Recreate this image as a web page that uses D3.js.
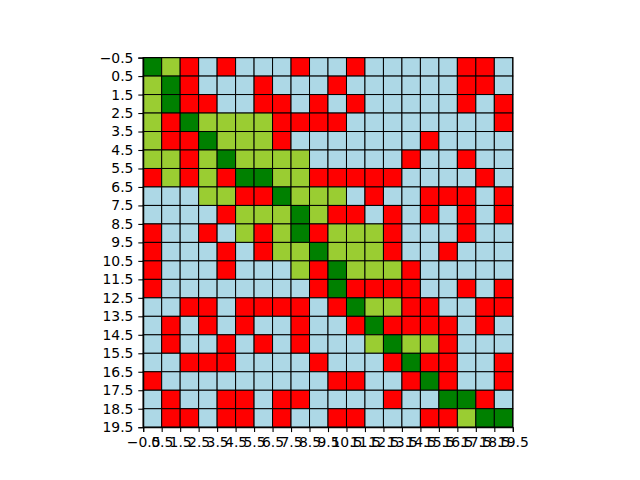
<!DOCTYPE html>
<html>
<head>
<meta charset="utf-8">
<script src="https://cdn.jsdelivr.net/npm/d3@7"></script>
<style>
  body { margin: 0; background: #fff; }
  svg { display: block; }
  .tick text { font-family: "DejaVu Sans", sans-serif; font-size: 13.9px; fill: #000; }
</style>
</head>
<body>
<div id="chart"></div>
<script>
// Cell codes per row (top row first): G=green, Y=yellowgreen, R=red, B=lightblue
const rows = [
  "GYRBRBBBRBBRBBBBBRRB",
  "YGRBBBRBBBRBBBBBBRRB",
  "YGRRBBRRBRBRBBBBBRBR",
  "YRGYYYYRRRRBBBBBBBBR",
  "YRRGYYYRBBBBBBBRBBBB",
  "YYRYGYYYYBBBBBRBBRBB",
  "RYRYRGGYYRRRRRBBBBRB",
  "BBBYYRRGYYYBRBBRRRBR",
  "BBBBRYYYGYRRBRBRBRBR",
  "RBBRBYRYGRYYYRBBBRBB",
  "RBBBRBRYYGYYYRBBRBBB",
  "RBBBRBBBYRGYYYRBBBBB",
  "RBBBBBBBBRGRRRRBBRBR",
  "BBRRBRRRRBRGYYRRBBRR",
  "BRBRBRBBRBBRGRRRRBRB",
  "BRBBRBRBRBBBYGYYRBBB",
  "BBRRRBBBBRBBBRGRRBBR",
  "RBBBBBBBBBRRBBRGRBBR",
  "BRBBRRBRRBBBBRBBGGRB",
  "BRRBRRBRBBRRBBBRRYGG"
];
const colorCodes = ["G", "Y", "R", "B"];
const colorNames = ["green", "yellowgreen", "red", "lightblue"];
const tickValues = d3.range(-0.5, 20, 1);

(function () {
const W = 640, H = 480;
const plotSize = 369.6;
const mLeft = 80 + (496 - plotSize) / 2, mTop = 57.6;

const x = d3.scaleLinear().domain([-0.5, 19.5]).range([mLeft, mLeft + plotSize]);
const y = d3.scaleLinear().domain([-0.5, 19.5]).range([mTop, mTop + plotSize]);
const color = d3.scaleOrdinal().domain(colorCodes).range(colorNames);

const svg = d3.select("#chart").append("svg").attr("width", W).attr("height", H);

const cells = [];
rows.forEach((r, i) => r.split("").forEach((c, j) => cells.push({ row: i, col: j, code: c })));

svg.append("g").selectAll("rect").data(cells).join("rect")
  .attr("x", d => x(d.col - 0.5))
  .attr("y", d => y(d.row - 0.5))
  .attr("width", x(1) - x(0))
  .attr("height", y(1) - y(0))
  .attr("fill", d => color(d.code))
  .attr("stroke", "#000")
  .attr("stroke-width", 1);

const fmt = v => (v < 0 ? "\u2212" : "") + Math.abs(v).toFixed(1);

const xAxis = d3.axisBottom(x).tickValues(tickValues).tickFormat(fmt).tickSize(4.9).tickPadding(4.9);
const yAxis = d3.axisLeft(y).tickValues(tickValues).tickFormat(fmt).tickSize(4.9).tickPadding(4.9);

const gx = svg.append("g").attr("transform", `translate(0,${mTop + plotSize})`).call(xAxis);
const gy = svg.append("g").attr("transform", `translate(${mLeft},0)`).call(yAxis);
[gx, gy].forEach(g => {
  g.select(".domain").attr("stroke", "#000").attr("stroke-width", 1.1);
  g.selectAll(".tick line").attr("stroke", "#000").attr("stroke-width", 1.1);
});

svg.append("rect").attr("x", mLeft).attr("y", mTop).attr("width", plotSize).attr("height", plotSize)
  .attr("fill", "none").attr("stroke", "#000").attr("stroke-width", 1.1);
})();
</script>
</body>
</html>
